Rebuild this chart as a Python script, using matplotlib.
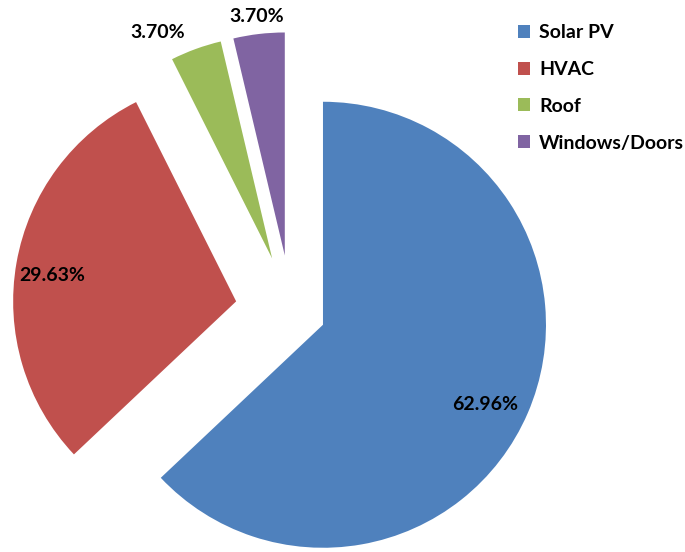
import math

import matplotlib
matplotlib.use("Agg")
import matplotlib.pyplot as plt

# Share of measures by category (counts)
categories = ["Solar PV", "HVAC", "Roof", "Windows/Doors"]
counts = [17, 8, 1, 1]
colors = ["#4F81BD", "#C0504D", "#9BBB59", "#8064A2"]

# pull-out of each slice (px) and label placement tweaks
explode = [34.5, 56, 56, 56]
label_dist = [0.81, 0.834, 1.135, 1.08]
label_nudge = [-3.0, 2.0, 6.8, 0.0]

W, H = 685, 552
RADIUS = 223
CENTER = (291.3, H - 311.1)

plt.rcParams["font.family"] = ["Lato", "DejaVu Sans"]

figure = plt.figure(figsize=(W / 100, H / 100), dpi=100)
axis = figure.add_axes([0, 0, 1, 1])

wedges, _ = axis.pie(
    counts, colors=colors, explode=explode, radius=RADIUS, center=CENTER,
    startangle=90, counterclock=False, frame=True,
    wedgeprops=dict(linewidth=0),
)

total = sum(counts)
for wedge, count, dist, nudge in zip(wedges, counts, label_dist, label_nudge):
    cx, cy = wedge.center
    mid = math.radians(0.5 * (wedge.theta1 + wedge.theta2) + nudge)
    axis.text(cx + dist * RADIUS * math.cos(mid),
              cy + dist * RADIUS * math.sin(mid),
              f"{100 * count / total:.2f}%",
              ha="center", va="center", fontsize=14, fontweight="bold",
              color="black")

axis.legend(wedges, categories, loc="upper left", bbox_to_anchor=(0.73, 0.988),
            frameon=False, prop=dict(size=14, weight="bold"),
            handlelength=0.65, handleheight=0.65, handletextpad=0.45,
            labelspacing=1.02)

axis.set_xlim(0, W)
axis.set_ylim(0, H)
axis.set_aspect("equal")
axis.axis("off")

figure.savefig("out.png", dpi=100)
